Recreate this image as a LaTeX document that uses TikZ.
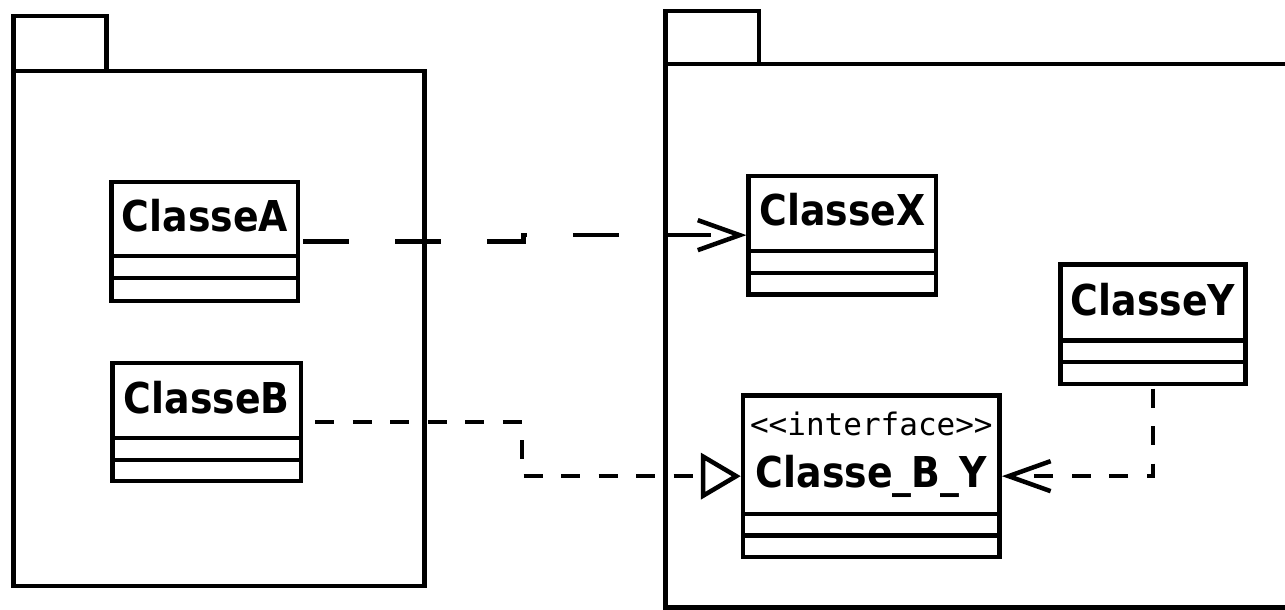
\documentclass[tikz,border=0pt]{standalone}
\usepackage{fontspec}
\usetikzlibrary{arrows.meta,positioning,fit,calc}

\newfontfamily\classfamily{DejaVu Sans}[FakeStretch=0.89]
\newfontfamily\stereofamily{DejaVu Sans Mono}

\tikzset{
  pkgline/.style={line width=4.5pt},
  umlpart/.style={draw, line width=4.5pt, outer sep=0pt, inner sep=0pt, minimum height=22pt},
  umltitle/.style={umlpart, font=\classfamily\bfseries\fontsize{42.5}{52}\selectfont,
                   text height=32pt, text depth=7pt},
  umliface/.style={umlpart, align=center, font=\classfamily\bfseries\fontsize{42.5}{52}\selectfont},
  umlclass/.style={inner sep=0pt, outer sep=2.25pt},
  usedep/.style={line width=4.5pt, dash pattern=on 46pt off 46pt, dash phase=89pt,
                 -{Straight Barb[length=42pt,width=30pt]}},
  realizes/.style={line width=4.5pt, dash pattern=on 19pt off 18.5pt, dash phase=25.5pt,
                   -{Triangle[length=40pt,width=46pt,fill=white]}},
  depends/.style={line width=4.5pt, dash pattern=on 19pt off 18.5pt, dash phase=35pt,
                  -{Straight Barb[length=42pt,width=30pt]}}
}

\begin{document}
\begin{tikzpicture}[x=1pt, y=-1pt]
  \path[use as bounding box] (0,0) rectangle (1285,610);
  \clip (0,0) rectangle (1285,610);

  % left package
  \draw[pkgline] (13.7,16.2) rectangle (106.3,70.8);
  \draw[pkgline] (13.7,70.8) rectangle (424.7,585.8);

  % right package (runs past the right edge)
  \draw[pkgline] (665.3,10.8) rectangle (758.9,64.2);
  \draw[pkgline] (665.3,64.2) rectangle (1320,607.5);

  % ClasseA
  \node[umltitle, minimum width=186.3pt, minimum height=74pt, anchor=north west] (An) at (111.7,182) {ClasseA};
  \node[umlpart, minimum width=186.3pt, below=0pt of An] (Aa) {};
  \node[umlpart, minimum width=186.3pt, minimum height=23pt, below=0pt of Aa] (Ao) {};
  \node[umlclass, fit=(An)(Ao)] (A) {};

  % ClasseB
  \node[umltitle, minimum width=188.5pt, minimum height=75pt, anchor=north west] (Bn) at (112.5,363) {ClasseB};
  \node[umlpart, minimum width=188.5pt, below=0pt of Bn] (Ba) {};
  \node[umlpart, minimum width=188.5pt, minimum height=21pt, below=0pt of Ba] (Bo) {};
  \node[umlclass, fit=(Bn)(Bo)] (B) {};

  % ClasseX
  \node[umltitle, minimum width=187.5pt, minimum height=75pt, anchor=north west] (Xn) at (748.7,175.8) {ClasseX};
  \node[umlpart, minimum width=187.5pt, below=0pt of Xn] (Xa) {};
  \node[umlpart, minimum width=187.5pt, minimum height=21.7pt, below=0pt of Xa] (Xo) {};
  \node[umlclass, fit=(Xn)(Xo)] (X) {};

  % ClasseY
  \node[umltitle, minimum width=185.2pt, minimum height=75.8pt, anchor=north west] (Yn) at (1060.3,264.7) {ClasseY};
  \node[umlpart, minimum width=185.2pt, minimum height=21.5pt, below=0pt of Yn] (Ya) {};
  \node[umlpart, minimum width=185.2pt, minimum height=21.8pt, below=0pt of Ya] (Yo) {};
  \node[umlclass, fit=(Yn)(Yo)] (Y) {};

  % interface Classe_B_Y
  \node[umliface, minimum width=256.7pt, minimum height=118.7pt, anchor=north west] (BYn) at (743,395.3)
    {{\stereofamily\mdseries\fontsize{31}{54}\selectfont <<interface>>}\\Classe\_B\_Y};
  \node[umlpart, minimum width=256.7pt, minimum height=21.3pt, below=0pt of BYn] (BYa) {};
  \node[umlpart, minimum width=256.7pt, minimum height=21.7pt, below=0pt of BYa] (BYo) {};
  \node[umlclass, fit=(BYn)(BYo)] (BY) {};

  % connectors
  \coordinate (m1) at ($(A.east)!.5!(X.west)$);
  \draw[usedep] (A.east) -- (m1 |- A.east) -- (m1 |- X.west) -- (X.west);

  \coordinate (m2) at ($(B.east)!.5!(BY.west)$);
  \draw[realizes] (B.east) -- (m2 |- B.east) -- (m2 |- BY.west) -- (BY.west);

  \draw[depends] (Y.south) |- (BY.east);
\end{tikzpicture}
\end{document}
